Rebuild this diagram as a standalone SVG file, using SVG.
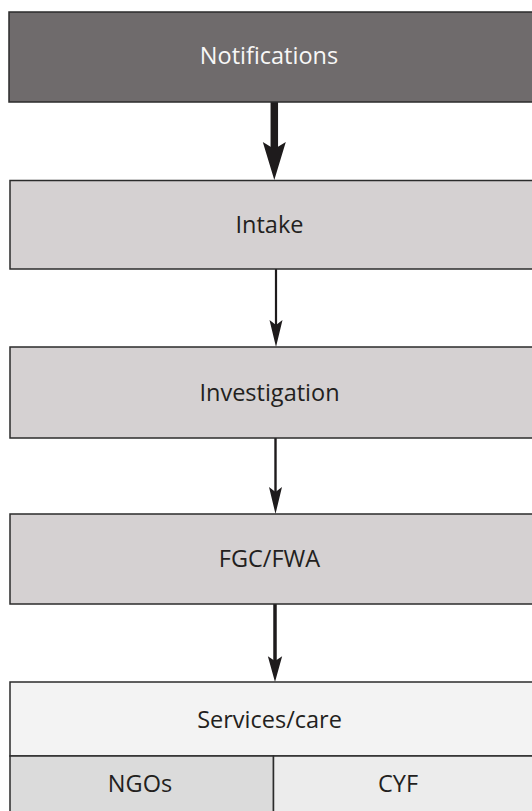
<svg xmlns="http://www.w3.org/2000/svg" width="532" height="811" viewBox="0 0 532 811">
<style>
  .box { stroke: #2b2b2b; stroke-width: 1.5; }
  .dark { fill: #6f6b6c; }
  .mid { fill: #d5d1d2; }
  .light { fill: #f3f3f3; }
  .ngo { fill: #dbdbdb; }
  .cyf { fill: #ececec; }
  .lbl { font-family: "Open Sans", "Noto Sans", "Liberation Sans", sans-serif; font-size: 23.5px; text-anchor: middle; fill: #231f20; }
  .wlbl { fill: #f7f7f7; }
  .shaft { stroke: #1e1b1c; fill: none; }
  .head { fill: #1e1b1c; }
</style>
<defs>
  <path id="headThin" d="M0,0 L-6.5,-27 L0,-22 L6.5,-27 Z"/>
  <path id="headThick" d="M0,0 L-11.5,-38 L0,-31 L11.5,-38 Z"/>
</defs>
<rect width="532" height="811" fill="#ffffff"/>
<g id="connectors">
  <line class="shaft" x1="274.3" y1="102" x2="274.3" y2="150" stroke-width="7.5"/>
  <use href="#headThick" class="head" transform="translate(274.3,180)"/>
  <line class="shaft" x1="276" y1="269" x2="276" y2="330" stroke-width="2.2"/>
  <use href="#headThin" class="head" transform="translate(276,347)"/>
  <line class="shaft" x1="275.5" y1="438" x2="275.5" y2="497" stroke-width="2.4"/>
  <use href="#headThin" class="head" transform="translate(275.5,514)"/>
  <line class="shaft" x1="275" y1="604" x2="275" y2="665" stroke-width="3.5"/>
  <use href="#headThin" class="head" transform="translate(275,682) scale(1.1,0.95)"/>
</g>
<g id="notifications">
  <rect class="box dark" x="9" y="12" width="530" height="90"/>
  <text class="lbl wlbl" x="269" y="64">Notifications</text>
</g>
<g id="intake">
  <rect class="box mid" x="10" y="180.5" width="530" height="88.5"/>
  <text class="lbl" x="269.5" y="232.5">Intake</text>
</g>
<g id="investigation">
  <rect class="box mid" x="10" y="347" width="530" height="91"/>
  <text class="lbl" x="269.5" y="400.5">Investigation</text>
</g>
<g id="fgc">
  <rect class="box mid" x="10" y="514" width="530" height="90"/>
  <text class="lbl" x="269.5" y="567">FGC/FWA</text>
</g>
<g id="services">
  <rect class="box light" x="10" y="682" width="530" height="74"/>
  <text class="lbl" x="269.5" y="727.5">Services/care</text>
</g>
<g id="ngos">
  <rect class="box ngo" x="10" y="756" width="263.5" height="60"/>
  <text class="lbl" x="140" y="791.5">NGOs</text>
</g>
<g id="cyf">
  <rect class="box cyf" x="273.5" y="756" width="266" height="60"/>
  <text class="lbl" x="398" y="791.5">CYF</text>
</g>
</svg>
